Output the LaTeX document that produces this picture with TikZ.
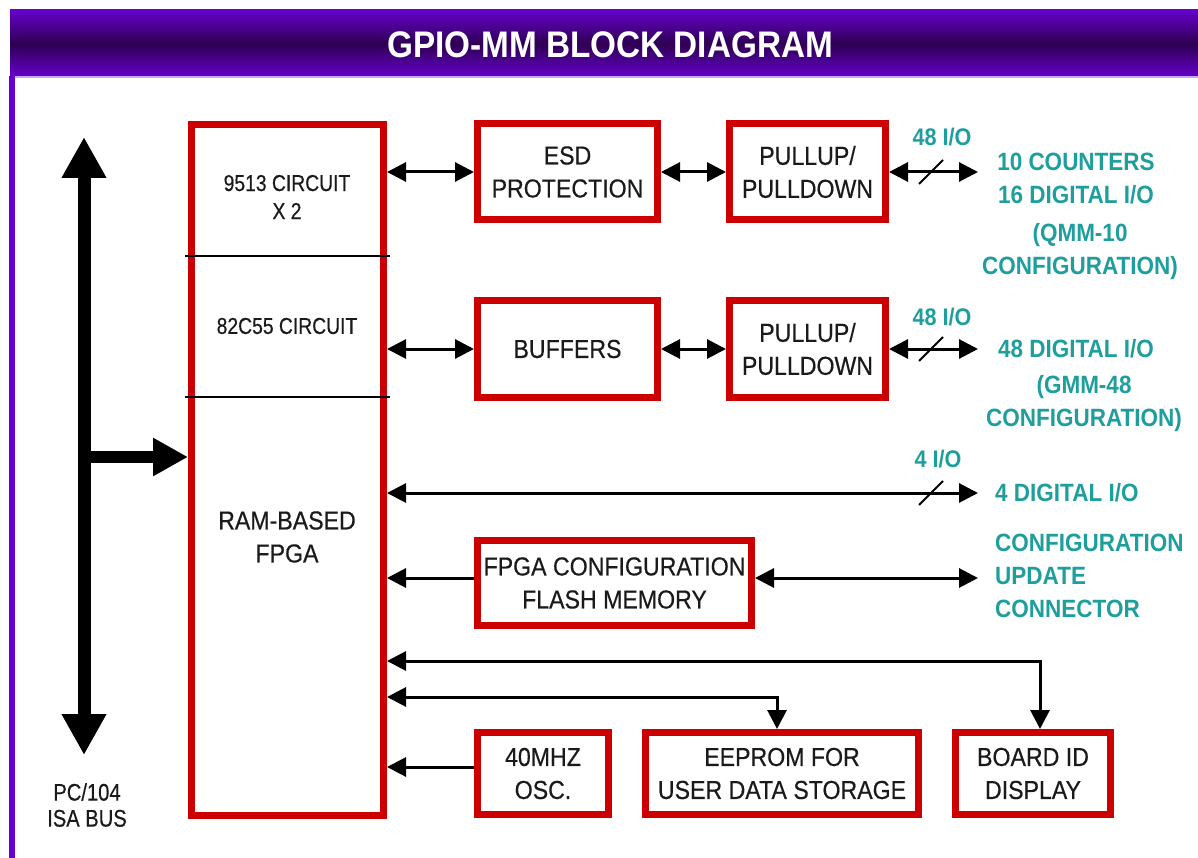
\documentclass[tikz,border=0pt]{standalone}
\usepackage{fontspec}
\setmainfont{Liberation Sans}
\newfontfamily\bodyfont[FakeStretch=0.89,FakeBold=0.4]{Liberation Sans}
\newfontfamily\smallfont[FakeStretch=0.84,FakeBold=0.4]{Liberation Sans}
\newfontfamily\tealfont[FakeStretch=0.9]{Liberation Sans}
\newfontfamily\titlefont[FakeStretch=0.9]{Liberation Sans}
\usetikzlibrary{arrows.meta}
\definecolor{boxred}{HTML}{CC0000}
\definecolor{tealtxt}{HTML}{1F9E9E}
\definecolor{hdrpurple}{HTML}{6600CC}
\definecolor{hdrdark}{HTML}{2E0052}
\definecolor{txtgray}{HTML}{1A1A1A}
\tikzset{
  blk/.style={draw=boxred, line width=7pt, fill=white, inner sep=0pt, align=center, text=txtgray,
    font=\bodyfont\fontsize{26}{33}\selectfont},
  lbl/.style={inner sep=0pt, align=center, text=txtgray, font=\smallfont\fontsize{23}{28}\selectfont},
  biglbl/.style={inner sep=0pt, align=center, text=txtgray, font=\bodyfont\fontsize{26}{33}\selectfont},
  teal/.style={text=tealtxt, inner sep=0pt, align=center, font=\tealfont\bfseries\fontsize{25}{33}\selectfont},
  teallbl/.style={text=tealtxt, inner sep=0pt, font=\tealfont\bfseries\fontsize{24}{24}\selectfont},
  conn/.style={line width=3pt},
  slash/.style={line width=2pt},
  divider/.style={line width=2.5pt, black},
}
\begin{document}
\begin{tikzpicture}[x=1pt,y=-1pt,>={Triangle[length=19pt,width=19pt]}]
\useasboundingbox (0,0) rectangle (1198,858);
\fill[white] (0,0) rectangle (1198,858);
% header
\shade[top color=hdrpurple, bottom color=hdrpurple, middle color=hdrdark] (10,10) rectangle (1198,77);
\draw[white!65!hdrpurple, line width=1.5pt] (10,77) -- (1198,77);
\draw[hdrpurple, line width=6pt] (12,76) -- (12,858);
\node[text=white, inner sep=0pt, font=\titlefont\bfseries\fontsize{37}{37}\selectfont] (title) at (610,45) {GPIO-MM BLOCK DIAGRAM};

% blocks
\node[blk, minimum width=192pt, minimum height=691pt] (fpga) at (287.5,470) {};
\node[blk, minimum width=180pt, minimum height=96pt] (esd) at (567.5,172) {ESD\\PROTECTION};
\node[blk, minimum width=156pt, minimum height=96pt] (pu1) at (807.5,172) {PULLUP/\\PULLDOWN};
\node[blk, minimum width=180pt, minimum height=96pt] (buf) at (567.5,349) {BUFFERS};
\node[blk, minimum width=156pt, minimum height=96pt] (pu2) at (807.5,349) {PULLUP/\\PULLDOWN};
\node[blk, minimum width=274pt, minimum height=85pt] (fcfg) at (614.5,583) {FPGA CONFIGURATION\\FLASH MEMORY};
\node[blk, minimum width=131pt, minimum height=82pt] (osc) at (543,773.5) {40MHZ\\OSC.};
\node[blk, minimum width=273pt, minimum height=82pt] (eeprom) at (782,773.5) {EEPROM FOR\\USER DATA STORAGE};
\node[blk, minimum width=155pt, minimum height=82pt] (board) at (1033,773.5) {BOARD ID\\DISPLAY};

% FPGA internal dividers and labels
\coordinate (d1) at (0,256);
\coordinate (d2) at (0,397);
\draw[divider] ([xshift=-3pt]fpga.west |- d1) -- ([xshift=3pt]fpga.east |- d1);
\draw[divider] ([xshift=-3pt]fpga.west |- d2) -- ([xshift=3pt]fpga.east |- d2);
\node[lbl] (c9513) at (287,197) {9513 CIRCUIT\\X 2};
\node[lbl] (c8255) at (287,326) {82C55 CIRCUIT};
\node[biglbl] (ram) at (287,537) {RAM-BASED\\FPGA};

% bus
\coordinate (bustop) at (84,137);
\coordinate (busbot) at (84,755);
\coordinate (busj) at (84,457);
\draw[line width=13pt, {Triangle[length=41pt,width=42pt]}-{Triangle[length=41pt,width=42pt]}] (bustop) -- (busbot);
\draw[line width=12pt, -{Triangle[length=35pt,width=36pt]}] (busj) -- (fpga.west |- busj);
\node[inner sep=0pt, align=center, text=txtgray, font=\smallfont\fontsize{24}{26}\selectfont] (bus) at (87,805) {PC/104\\ISA BUS};

% row 1
\coordinate (o1) at (978,172);
\draw[conn,<->] (fpga.east |- esd) -- (esd.west);
\draw[conn,<->] (esd.east) -- (pu1.west);
\draw[conn,<->] (pu1.east) -- (o1);
\coordinate (s1) at (931,172);
\draw[slash] ([shift={(-12,12)}]s1) -- ([shift={(12,-12)}]s1);
\node[teallbl] (l1) at (942,137) {48 I/O};
\node[teal] (t1) at (1076,179) {10 COUNTERS\\16 DIGITAL I/O};
\node[teal] (t1b) at (1080,252) {(QMM-10\\CONFIGURATION)};

% row 2
\coordinate (o2) at (978,349);
\draw[conn,<->] (fpga.east |- buf) -- (buf.west);
\draw[conn,<->] (buf.east) -- (pu2.west);
\draw[conn,<->] (pu2.east) -- (o2);
\coordinate (s2) at (931,349);
\draw[slash] ([shift={(-12,12)}]s2) -- ([shift={(12,-12)}]s2);
\node[teallbl] (l2) at (942,317) {48 I/O};
\node[teal] (t2) at (1076,349) {48 DIGITAL I/O};
\node[teal] (t2b) at (1084,404) {(GMM-48\\CONFIGURATION)};

% row 3: 4 I/O
\coordinate (o3) at (978,493);
\draw[conn,<->] (fpga.east |- o3) -- (o3);
\coordinate (s3) at (931,493);
\draw[slash] ([shift={(-12,12)}]s3) -- ([shift={(12,-12)}]s3);
\node[teallbl] (l3) at (938,459) {4 I/O};
\node[teal, anchor=west] (t3) at (995,493) {4 DIGITAL I/O};

% row 4: flash
\coordinate (o4) at (978,578);
\draw[conn,->] (fcfg.west |- o4) -- (fpga.east |- o4);
\draw[conn,<->] (fcfg.east |- o4) -- (o4);
\node[teal, anchor=west, align=left] (t4) at (995,576) {CONFIGURATION\\UPDATE\\CONNECTOR};

% bottom connections
\coordinate (bd) at (1040,661);
\draw[conn,<->] (fpga.east |- bd) -- (bd) -- (bd |- board.north);
\coordinate (ee) at (777,697);
\draw[conn,<->] (fpga.east |- ee) -- (ee) -- (ee |- eeprom.north);
\coordinate (os) at (0,767);
\draw[conn,->] (osc.west |- os) -- (fpga.east |- os);
\end{tikzpicture}
\end{document}
